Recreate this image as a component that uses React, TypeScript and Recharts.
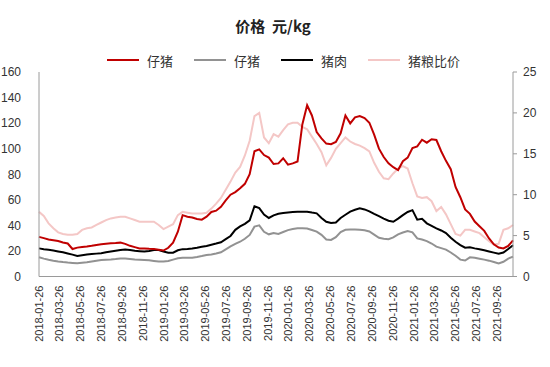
import React from "react";
import { LineChart, Line, XAxis, YAxis } from "recharts";

// x axis tick labels (every two months)
const tickLabels = [
  "2018-01-26", "2018-03-26", "2018-05-26", "2018-07-26", "2018-09-26", "2018-11-26",
  "2019-01-26", "2019-03-26", "2019-05-26", "2019-07-26", "2019-09-26", "2019-11-26",
  "2020-01-26", "2020-03-26", "2020-05-26", "2020-07-26", "2020-09-26", "2020-11-26",
  "2021-01-26", "2021-03-26", "2021-05-26", "2021-07-26", "2021-09-26",
];

const START = Date.parse("2018-01-26");
const dayOf = (s: string) => Math.round((Date.parse(s) - START) / 86400000);
const tickDays = tickLabels.map(dayOf);
const labelByDay: Record<number, string> = {};
tickDays.forEach((d, i) => (labelByDay[d] = tickLabels[i]));

// one sample every two weeks from 2018-01-26
const days = Array.from({ length: 100 }, (_, i) => i * 14);

// 仔猪 (dark red, left axis)
const pigletRed = [
  31, 30, 29, 28.4, 27.8, 26.6, 25.8, 21.5, 22.6, 23,
  23.4, 24, 24.7, 25.2, 25.6, 26, 26.2, 26.5, 25.5, 24,
  23, 22, 22, 21.7, 21.5, 21, 20.3, 22.5, 26.5, 35,
  48, 46.8, 46.2, 45, 44.5, 46.8, 50.5, 51.5, 54.5, 59.5,
  64, 66, 69, 72.5, 80, 98, 99.5, 95, 93, 88,
  88.5, 92.5, 87.5, 88.5, 90, 119, 134, 126, 113, 108,
  104, 103.5, 105.3, 112, 126, 119.8, 124.5, 125.6, 124, 120.3,
  111, 100, 93.5, 88.5, 85.5, 83.3, 90.2, 93, 100.5, 101.8,
  107, 104.7, 107.4, 106.8, 98, 90.5, 84, 70, 62, 52.5,
  49, 43, 39.3, 35.7, 29.8, 25.2, 22.7, 22, 23.9, 28.3,
];

// 仔猪 (gray, left axis)
const pigletGray = [
  15, 14, 13.1, 12.4, 11.8, 11.3, 10.9, 10.6, 10.3, 10.7,
  11.1, 11.8, 12.4, 12.9, 13.1, 13.3, 13.6, 14, 14.1, 13.7,
  13.3, 13.2, 13, 12.7, 12.2, 11.7, 11.7, 12.2, 13.2, 14.2,
  14.7, 14.7, 14.7, 15.3, 16, 16.8, 17.3, 18, 18.9, 21.2,
  23.5, 25.5, 27.2, 29.5, 32.5, 39, 40, 35, 33, 34.1,
  33.3, 34.8, 36.3, 37.2, 37.7, 37.7, 37.6, 36.4, 35.1, 32.6,
  29, 28.6, 30.8, 34.8, 36.5, 36.8, 36.8, 36.6, 36.2, 35.2,
  32.8, 30.3, 29.6, 29.2, 30.6, 33, 34.4, 35.5, 34.5, 29.8,
  28.9, 27.7, 25.8, 23.4, 22.2, 21, 18.8, 16.2, 13.2, 12.5,
  15, 14.6, 13.9, 13.2, 12.4, 11.4, 10.2, 11.5, 14, 15.5,
];

// 猪肉 (black, left axis)
const pork = [
  22, 21.4, 20.9, 20.3, 19.6, 18.9, 18, 17.1, 16.1, 16.7,
  17.3, 17.6, 17.9, 18.2, 18.9, 19.5, 20.1, 20.7, 21.2, 20.7,
  20.1, 19.8, 19.5, 20, 20.7, 20.7, 19.5, 18.6, 18.6, 20.5,
  21.4, 21.6, 21.9, 22.5, 23.2, 23.9, 24.9, 25.8, 26.8, 29.2,
  31.7, 36.5, 39.2, 41.2, 44, 55, 53.5, 48.5, 45.8, 47.8,
  49.1, 49.6, 50.1, 50.4, 50.7, 50.7, 50.7, 50, 49.4, 45.8,
  42.8, 41.8, 42.3, 45.8, 48.3, 50.8, 52.2, 53.3, 52.5, 51,
  49, 47.2, 45.3, 43.6, 42.8, 45.3, 48, 50.5, 51.9, 44.5,
  45.2, 41.6, 39.6, 37.7, 36, 34, 30.4, 27.2, 24.6, 22.5,
  22.8, 22, 21.3, 20.5, 19.6, 18.7, 17.8, 18.8, 21.5, 24.5,
];

// 猪粮比价 (pink, right axis)
const hogGrainRatio = [
  7.9, 7.4, 6.5, 5.9, 5.4, 5.2, 5.1, 5.1, 5.2, 5.7,
  5.9, 6.0, 6.3, 6.6, 6.9, 7.1, 7.2, 7.3, 7.3, 7.1,
  6.9, 6.7, 6.7, 6.7, 6.7, 6.3, 5.8, 6.1, 6.4, 7.5,
  7.9, 7.8, 7.7, 7.7, 7.7, 7.8, 8.3, 8.9, 9.6, 10.6,
  11.6, 12.7, 13.4, 14.8, 16.6, 19.6, 20.0, 17.0, 16.3, 17.4,
  17.1, 17.9, 18.6, 18.8, 18.8, 18.3, 18.0, 17.1, 16.2, 15.2,
  13.6, 14.5, 15.6, 16.3, 17.0, 16.5, 16.2, 16.0, 15.7, 15.3,
  13.9, 12.8, 12.0, 11.9, 12.6, 13.2, 13.5, 13.2, 11.4, 9.8,
  9.6, 9.7, 9.2, 8.0, 8.5, 7.6, 6.4, 5.2, 5.0, 5.7,
  5.7, 5.5, 5.3, 4.8, 4.3, 3.9, 4.0, 5.7, 5.9, 6.3,
];

const data = days.map((d, i) => ({
  day: d,
  red: pigletRed[i],
  gray: pigletGray[i],
  pork: pork[i],
  ratio: hogGrainRatio[i],
}));

const legendItems = [
  { name: "仔猪", color: "#C00000" },
  { name: "仔猪", color: "#929292" },
  { name: "猪肉", color: "#000000" },
  { name: "猪粮比价", color: "#F4C7C6" },
];

const FONT = '"Liberation Sans", "Noto Sans CJK SC", sans-serif';
const CJK = '"Noto Sans CJK SC", sans-serif';
const AXIS = "#9a9a9a";

const XTick = ({ x, y, payload }: any) => (
  <text
    x={x}
    y={y}
    transform={`rotate(-90, ${x}, ${y})`}
    textAnchor="end"
    dy="0.35em"
    fontSize={11}
    fill="#333"
    fontFamily={FONT}
  >
    {labelByDay[payload.value]}
  </text>
);

export default function App() {
  return (
    <div style={{ position: "absolute", left: 0, top: 0, width: 550, height: 367, background: "#fff" }}>
      <div
        style={{
          position: "absolute", top: 16, left: 0, width: 546, textAlign: "center", whiteSpace: "pre",
          fontFamily: CJK, fontWeight: 700, fontSize: 15, color: "#222", lineHeight: "20px",
        }}
      >
        {"价格  元/kg"}
      </div>
      {legendItems.map((it, i) => (
        <div
          key={i}
          style={{
            position: "absolute", top: 51, left: 107 + i * 87, height: 18,
            display: "flex", alignItems: "center", fontFamily: CJK, fontSize: 13, color: "#333",
          }}
        >
          <span style={{ display: "inline-block", width: 32, height: 2, background: it.color, marginRight: 8 }} />
          {it.name}
        </div>
      ))}
      <LineChart width={550} height={367} data={data} margin={{ top: 72, right: 0, bottom: 0, left: 0 }}>
        <XAxis
          dataKey="day"
          type="number"
          domain={[0, 1386]}
          ticks={tickDays}
          interval={0}
          height={90.5}
          tick={<XTick />}
          tickLine={false}
          tickSize={0}
          tickMargin={9}
          axisLine={{ stroke: AXIS }}
        />
        <YAxis
          yAxisId="left"
          domain={[0, 160]}
          ticks={[0, 20, 40, 60, 80, 100, 120, 140, 160]}
          width={39}
          tickLine={false}
          tickSize={0}
          tickMargin={18}
          axisLine={{ stroke: AXIS }}
          tick={{ fontSize: 12, fill: "#333", fontFamily: FONT }}
        />
        <YAxis
          yAxisId="right"
          orientation="right"
          domain={[0, 25]}
          ticks={[0, 5, 10, 15, 20, 25]}
          width={37}
          tickSize={4}
          tickMargin={6}
          tickLine={{ stroke: AXIS }}
          axisLine={{ stroke: AXIS }}
          tick={{ fontSize: 12, fill: "#333", fontFamily: FONT }}
        />
        <Line yAxisId="right" dataKey="ratio" stroke="#F4C7C6" strokeWidth={2} dot={false} isAnimationActive={false} />
        <Line yAxisId="left" dataKey="gray" stroke="#929292" strokeWidth={2} dot={false} isAnimationActive={false} />
        <Line yAxisId="left" dataKey="pork" stroke="#000000" strokeWidth={2} dot={false} isAnimationActive={false} />
        <Line yAxisId="left" dataKey="red" stroke="#C00000" strokeWidth={2} dot={false} isAnimationActive={false} />
      </LineChart>
    </div>
  );
}
